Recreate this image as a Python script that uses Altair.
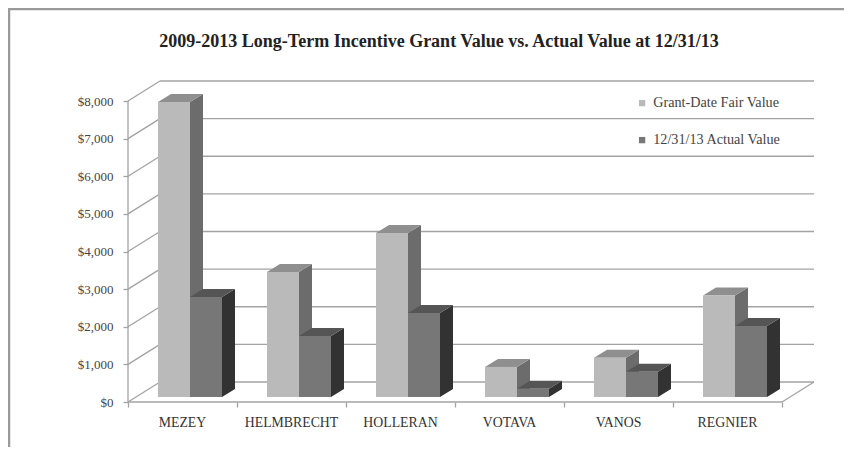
import altair as alt
import pandas as pd

TITLE = "2009-2013 Long-Term Incentive Grant Value vs. Actual Value at 12/31/13"
CATEGORIES = ["MEZEY", "HELMBRECHT", "HOLLERAN", "VOTAVA", "VANOS", "REGNIER"]
SERIES = ["Grant-Date Fair Value", "12/31/13 Actual Value"]
GRANT = [7840, 3320, 4360, 800, 1040, 2700]
ACTUAL = [2660, 1620, 2230, 220, 670, 1890]
Y_TICKS = [0, 1000, 2000, 3000, 4000, 5000, 6000, 7000, 8000]

# ---- layout (pixels) ----
W, H = 686, 321
PAD = {"left": 120, "top": 73, "right": 30, "bottom": 45}
PX_PER_CAT = 109.0
PX_PER_K = 37.625
WALL_DX, WALL_DY = 32, 20
BAR_SHIFT_X, BAR_SHIFT_Y = 8, 5
BAR_GAP, BAR_W = 22, 32
DEPTH_DX, DEPTH_DY = 13, 8

UX = 1.0 / PX_PER_CAT
UY = 1000.0 / PX_PER_K
XMAX = W * UX
YMAX = H * UY

FONT = "Liberation Serif"
LINE = "#a3a3a3"
FRONT = ["#bababa", "#777777"]
TOP = ["#8f8f8f", "#555555"]
SIDE = ["#6c6c6c", "#323232"]

xs = alt.Scale(domain=[0, XMAX], nice=False, zero=False)
ys = alt.Scale(domain=[0, YMAX], nice=False, zero=False)
n = len(CATEGORIES)

AX_X = alt.Axis(
    values=list(range(n + 1)), labels=False, domain=False, grid=False,
    tickSize=5, tickColor=LINE, tickWidth=1.3, title=None,
)
AX_Y = alt.Axis(
    values=Y_TICKS, format="$,d", domain=False, grid=False, tickSize=5,
    tickColor=LINE, tickWidth=1.3, labelPadding=10, labelFont=FONT,
    labelFontSize=13, labelColor="#444444", title=None,
)

# ---- geometry derived from the data ----
fronts, sides, tops = [], [], []
for i, cat in enumerate(CATEGORIES):
    for s, vals in enumerate([GRANT, ACTUAL]):
        v = vals[i]
        xl = i + (BAR_SHIFT_X + BAR_GAP + BAR_W * s) * UX
        xr = xl + BAR_W * UX
        b = BAR_SHIFT_Y * UY
        t = b + v
        ddx, ddy = DEPTH_DX * UX, DEPTH_DY * UY
        bid = f"{cat}-{s}"
        fronts.append(dict(cat=cat, series=SERIES[s], value=v, x=xl, x2=xr, y=b, y2=t))
        sides += [
            dict(bar=bid, series=SERIES[s], x=xr, y=b, y2=t),
            dict(bar=bid, series=SERIES[s], x=xr + ddx, y=b + ddy, y2=t + ddy),
        ]
        tops += [
            dict(bar=bid, series=SERIES[s], x=xl, y=t, y2=t),
            dict(bar=bid, series=SERIES[s], x=xl + ddx, y=t, y2=t + ddy),
            dict(bar=bid, series=SERIES[s], x=xr, y=t, y2=t + ddy),
            dict(bar=bid, series=SERIES[s], x=xr + ddx, y=t + ddy, y2=t + ddy),
        ]
fronts = pd.DataFrame(fronts)
sides = pd.DataFrame(sides)
tops = pd.DataFrame(tops)

wdx, wdy = WALL_DX * UX, WALL_DY * UY
lines = []
for v in Y_TICKS:
    lines.append(dict(x=wdx, x2=XMAX, y=v + wdy, y2=v + wdy))
    lines.append(dict(x=0, x2=wdx, y=v, y2=v + wdy))
lines.append(dict(x=0, x2=0, y=0, y2=Y_TICKS[-1]))
lines.append(dict(x=0, x2=n, y=0, y2=0))
lines.append(dict(x=n, x2=n + wdx, y=0, y2=wdy))
lines = pd.DataFrame(lines)

labels = pd.DataFrame(dict(cat=CATEGORIES, xc=[i + 0.5 for i in range(n)], y0=[0] * n))

# ---- layers ----
one = pd.DataFrame({"a": [0]})
border_top = alt.Chart(one).mark_rule(color="#9a9a9a", strokeWidth=2.5).encode(
    x=alt.value(-119), x2=alt.value(W + PAD["right"]), y=alt.value(-72)
)
border_left = alt.Chart(one).mark_rule(color="#9a9a9a", strokeWidth=2.5).encode(
    x=alt.value(-119), y=alt.value(-73), y2=alt.value(H + PAD["bottom"])
)

grid = alt.Chart(lines).mark_rule(color=LINE, strokeWidth=1.3).encode(
    x=alt.X("x:Q", scale=xs, axis=AX_X),
    x2="x2:Q",
    y=alt.Y("y:Q", scale=ys, axis=AX_Y),
    y2="y2:Q",
)


def face_layer(df, s, color):
    return alt.Chart(df).transform_filter(alt.datum.series == SERIES[s]).mark_area(
        color=color, interpolate="linear"
    ).encode(
        x=alt.X("x:Q", scale=xs, axis=AX_X),
        y=alt.Y("y:Q", scale=ys, axis=AX_Y),
        y2="y2:Q",
        detail="bar:N",
    )


side_layers = [face_layer(sides, s, SIDE[s]) for s in range(2)]
top_layers = [face_layer(tops, s, TOP[s]) for s in range(2)]

front = alt.Chart(fronts).mark_rect().encode(
    x=alt.X("x:Q", scale=xs, axis=AX_X),
    x2="x2:Q",
    y=alt.Y("y:Q", scale=ys, axis=AX_Y),
    y2="y2:Q",
    color=alt.Color(
        "series:N",
        scale=alt.Scale(domain=SERIES, range=FRONT),
        legend=alt.Legend(
            title=None, orient="none", legendX=507, legendY=15, symbolType="square",
            symbolSize=40, symbolStrokeWidth=0, labelFont=FONT, labelFontSize=14.2,
            labelColor="#444444", rowPadding=22, labelOffset=4, padding=0,
        ),
    ),
    tooltip=["cat:N", "series:N", "value:Q"],
)

cat_text = alt.Chart(labels).mark_text(
    font=FONT, fontSize=13.8, color="#333333", dy=21, baseline="middle"
).encode(
    x=alt.X("xc:Q", scale=xs, axis=AX_X),
    y=alt.Y("y0:Q", scale=ys, axis=AX_Y),
    text="cat:N",
)

chart = alt.layer(
    border_top, border_left, grid, *side_layers, *top_layers, front, cat_text
).properties(
    width=W,
    height=H,
    title=alt.TitleParams(
        TITLE, font=FONT, fontSize=18, fontWeight="bold", color="#222222",
        anchor="middle", frame="group", dx=-32, offset=-58, baseline="alphabetic",
    ),
    autosize=alt.AutoSizeParams(type="none"),
    padding=PAD,
    background="white",
).configure_view(stroke=None)

chart.save("out.html", embed_options={"renderer": "svg", "actions": False})
